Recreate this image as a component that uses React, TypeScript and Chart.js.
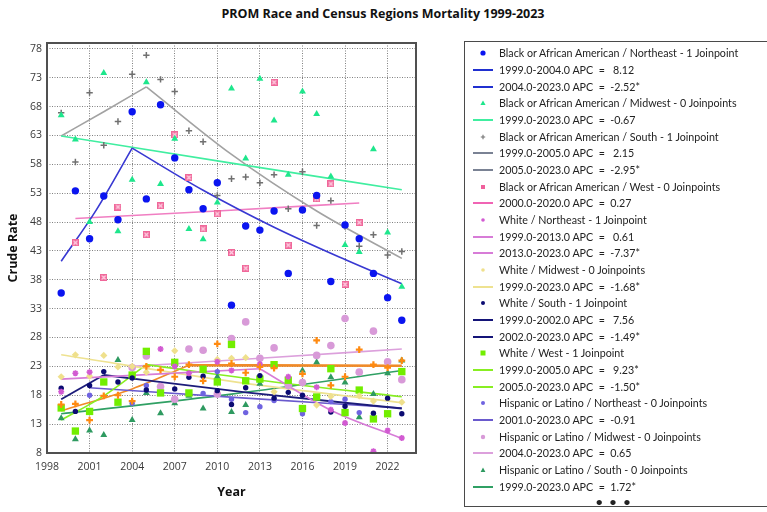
import { useEffect, useRef } from "react";
import { Chart, registerables } from "chart.js";

Chart.register(...registerables);

// ---- data -------------------------------------------------------------
const years = [1999, 2000, 2001, 2002, 2003, 2004, 2005, 2006, 2007, 2008, 2009, 2010, 2011, 2012, 2013, 2014, 2015, 2016, 2017, 2018, 2019, 2020, 2021, 2022, 2023];
const xTickValues = [1998, 2001, 2004, 2007, 2010, 2013, 2016, 2019, 2022];
const yTickValues = [8, 13, 18, 23, 28, 33, 38, 43, 48, 53, 58, 63, 68, 73, 78];

const blackNortheast = [35.7, 53.4, 45.1, 52.5, 48.4, 67.1, 52.0, 68.3, 59.1, 53.6, 50.3, 54.8, 33.6, 47.3, 46.6, 49.9, 39.1, 50.1, 52.6, 37.7, 47.5, 45.1, 39.1, 34.9, 31.0];
const blackMidwest = [66.5, 62.3, 48.0, 73.8, 46.4, 55.3, 72.2, 54.6, 62.4, 46.8, 45.0, 51.4, 71.1, 59.0, 72.8, 65.6, 56.2, 70.6, 66.7, 55.9, 44.0, 42.8, 60.6, 46.2, 36.8];
const blackSouth = [66.9, 58.4, 70.4, 61.3, 65.4, 73.6, 76.9, 72.7, 70.6, 63.8, 61.9, 52.6, 55.5, 55.8, 54.8, 56.2, 50.3, 56.7, 47.4, 51.7, 47.2, 43.8, 45.8, 42.3, 42.9];
const blackWest = [null, 44.4, null, 38.4, 50.6, null, 45.8, 50.8, 63.1, 55.7, 46.8, 49.4, 42.7, 40.0, null, 72.2, 44.0, null, 52.0, 54.6, 37.2, 47.9, null, null, null];
const whiteNortheast = [18.6, 21.8, 22.0, null, null, null, null, 26.0, 23.0, 21.8, null, 23.8, 22.3, null, 23.4, null, 21.2, null, 19.4, 15.5, 13.2, null, 8.3, 11.9, 10.6];
const whiteMidwest = [21.2, 25.0, 21.3, 24.9, 22.9, 23.0, 22.0, null, 25.7, null, null, 24.2, 24.4, 24.5, null, 18.6, null, null, 16.3, 17.8, null, 17.9, 17.0, null, 16.8];
const whiteSouth = [19.2, 15.2, 19.7, 22.1, 20.3, 21.0, 18.9, null, 19.1, 21.1, 21.3, 18.8, 16.4, 19.3, 21.4, 17.5, 18.5, 18.0, null, 15.1, 16.1, null, 14.9, 17.5, 14.8];
const whiteWest = [15.8, 11.8, 15.2, 20.3, 16.8, 21.5, 25.6, 18.4, 23.7, 18.4, 22.5, 20.3, 26.8, 20.5, 20.8, 23.3, 20.6, 15.7, 17.7, 22.6, 15.0, 18.9, 13.9, 14.8, 22.1];
const hispanicNortheast = [null, null, 18.0, null, null, 16.6, 19.7, null, null, null, 18.3, 22.1, 17.3, 15.0, 16.0, 17.1, null, 14.8, null, 16.9, 17.3, 15.0, null, null, null];
const hispanicMidwest = [null, null, null, null, null, 22.8, 24.8, 19.5, 17.3, 26.0, 25.8, 18.2, 27.8, 30.7, 24.4, 26.2, 19.7, 20.2, 24.9, 26.6, 31.3, 22.0, 29.1, 23.8, 20.7];
const hispanicSouth = [14.0, 10.4, 11.9, 11.1, 24.1, 13.7, 18.4, 14.9, 16.6, 17.9, 15.7, 21.2, 15.1, 16.3, 20.0, null, 19.8, 22.3, 23.7, 21.1, 20.2, 14.2, 18.2, 21.8, 24.0];
const hispanicWest = [16.4, 16.5, 13.7, 17.9, 18.0, 17.0, 23.0, 22.4, 21.2, 23.3, 20.5, 26.9, 23.5, 21.9, 22.9, 22.7, null, 21.7, 27.5, 19.7, 21.2, 25.9, 23.3, 22.8, 24.0];

// Joinpoint fitted segments, as [year, modelled rate] knots
const fitBlackNortheastA = [[1999, 41.2], [2001.5, 50.2], [2004, 60.8]];
const fitBlackNortheastB = [[2004, 60.8], [2009, 53.5], [2014, 47.1], [2019, 41.5], [2023, 37.3]];
const fitBlackMidwest = [[1999, 62.9], [2011, 58.2], [2023, 53.6]];
const fitBlackSouthA = [[1999, 62.9], [2002, 67.1], [2005, 71.4]];
const fitBlackSouthB = [[2005, 71.4], [2011, 59.7], [2017, 49.9], [2023, 41.7]];
const fitBlackWest = [[2000, 48.6], [2010, 49.9], [2020, 51.3]];
const fitWhiteNortheastA = [[1999, 20.8], [2006, 21.7], [2013, 22.6]];
const fitWhiteNortheastB = [[2013, 22.6], [2018, 15.4], [2023, 10.5]];
const fitWhiteMidwest = [[1999, 25.0], [2011, 20.4], [2023, 16.7]];
const fitWhiteSouthA = [[1999, 17.3], [2002, 21.5]];
const fitWhiteSouthB = [[2002, 21.5], [2012, 18.5], [2023, 15.7]];
const fitWhiteWestA = [[1999, 13.7], [2002, 17.9], [2005, 23.3]];
const fitWhiteWestB = [[2005, 23.3], [2014, 20.3], [2023, 17.75]];
const fitHispanicNortheast = [[2001, 19.3], [2012, 17.5], [2023, 15.8]];
const fitHispanicMidwest = [[2004, 23.0], [2013, 24.4], [2023, 26.0]];
const fitHispanicSouth = [[1999, 14.8], [2011, 18.2], [2023, 22.3]];
const fitHispanicWestA = [[1999, 15.3], [2004, 19.1], [2008, 23.2]];
const fitHispanicWestB = [[2008, 23.2], [2023, 23.1]];

const C = {
  blue: "#0a14f0", blueLine: "#3838d2",
  mint: "#1ee68c", mintLine: "#40eea0",
  gray: "#707070", grayLine: "#a2a2a2", grayLegend: "#7a8294",
  pink: "#f0609c", pinkLine: "#f07ec2",
  orchid: "#d25ad2", orchidLine: "#d77cd7",
  khaki: "#efe08c", khakiLine: "#eee290",
  navy: "#0b0b72", navyLine: "#1c1c7a",
  lawn: "#72ee00", lawnLine: "#88ee22",
  slate: "#6f63e0", slateLine: "#6a5acd",
  plum: "#d89ad8", plumLine: "#dca0dc",
  sea: "#2e9a60", seaLine: "#30a064",
  orange: "#ff8a10", orangeLine: "#f08a28",
};

const chartTitle = "PROM Race and Census Regions Mortality 1999-2023";

type Row = { kind: "point" | "line"; sym: string; text: string };
const legendRows: Row[] = [
  { kind: "point", sym: "bNE", text: "Black or African American / Northeast - 1 Joinpoint" },
  { kind: "line", sym: "bNE", text: "1999.0-2004.0 APC  =   8.12" },
  { kind: "line", sym: "bNE", text: "2004.0-2023.0 APC  =  -2.52*" },
  { kind: "point", sym: "bMW", text: "Black or African American / Midwest - 0 Joinpoints" },
  { kind: "line", sym: "bMW", text: "1999.0-2023.0 APC  =  -0.67" },
  { kind: "point", sym: "bS", text: "Black or African American / South - 1 Joinpoint" },
  { kind: "line", sym: "bS", text: "1999.0-2005.0 APC  =   2.15" },
  { kind: "line", sym: "bS", text: "2005.0-2023.0 APC  =  -2.95*" },
  { kind: "point", sym: "bW", text: "Black or African American / West - 0 Joinpoints" },
  { kind: "line", sym: "bW", text: "2000.0-2020.0 APC  =  0.27" },
  { kind: "point", sym: "wNE", text: "White / Northeast - 1 Joinpoint" },
  { kind: "line", sym: "wNE", text: "1999.0-2013.0 APC  =   0.61" },
  { kind: "line", sym: "wNE", text: "2013.0-2023.0 APC  =  -7.37*" },
  { kind: "point", sym: "wMW", text: "White / Midwest - 0 Joinpoints" },
  { kind: "line", sym: "wMW", text: "1999.0-2023.0 APC  =  -1.68*" },
  { kind: "point", sym: "wS", text: "White / South - 1 Joinpoint" },
  { kind: "line", sym: "wS", text: "1999.0-2002.0 APC  =   7.56" },
  { kind: "line", sym: "wS", text: "2002.0-2023.0 APC  =  -1.49*" },
  { kind: "point", sym: "wW", text: "White / West - 1 Joinpoint" },
  { kind: "line", sym: "wW", text: "1999.0-2005.0 APC  =   9.23*" },
  { kind: "line", sym: "wW", text: "2005.0-2023.0 APC  =  -1.50*" },
  { kind: "point", sym: "hNE", text: "Hispanic or Latino / Northeast - 0 Joinpoints" },
  { kind: "line", sym: "hNE", text: "2001.0-2023.0 APC  =  -0.91" },
  { kind: "point", sym: "hMW", text: "Hispanic or Latino / Midwest - 0 Joinpoints" },
  { kind: "line", sym: "hMW", text: "2004.0-2023.0 APC  =  0.65" },
  { kind: "point", sym: "hS", text: "Hispanic or Latino / South - 0 Joinpoints" },
  { kind: "line", sym: "hS", text: "1999.0-2023.0 APC  =  1.72*" },
];

const legendLineColor: Record<string, string> = {
  bNE: "#2030d0", bMW: C.mintLine, bS: C.grayLegend, bW: "#f064b4", wNE: C.orchidLine,
  wMW: C.khakiLine, wS: "#141478", wW: C.lawnLine, hNE: C.slateLine, hMW: C.plumLine, hS: C.seaLine,
};

// ---- helpers ----------------------------------------------------------
function toPoints(values: (number | null)[]) {
  const pts: { x: number; y: number }[] = [];
  values.forEach((v, i) => {
    if (v !== null) pts.push({ x: years[i], y: v });
  });
  return pts;
}

function boxCross(): HTMLCanvasElement {
  const c = document.createElement("canvas");
  c.width = 7;
  c.height = 7;
  const g = c.getContext("2d")!;
  g.fillStyle = "#f0689a";
  g.fillRect(0, 0, 7, 7);
  g.strokeStyle = "#ffd2e4";
  g.lineWidth = 1.2;
  g.beginPath();
  g.moveTo(1.5, 1.5);
  g.lineTo(5.5, 5.5);
  g.moveTo(5.5, 1.5);
  g.lineTo(1.5, 5.5);
  g.stroke();
  return c;
}

function scatterSet(values: (number | null)[], opts: any) {
  return {
    type: "scatter" as const,
    data: toPoints(values),
    showLine: false,
    pointBorderWidth: 0,
    ...opts,
  };
}

function fitSet(knots: number[][], color: string, width = 1.6) {
  return {
    type: "line" as const,
    data: knots.map(([x, y]) => ({ x, y })),
    borderColor: color,
    borderWidth: width,
    pointRadius: 0,
    fill: false,
    cubicInterpolationMode: "monotone" as const,
  };
}

const framePlugin = {
  id: "frame",
  afterDraw(chart: any) {
    const { ctx, chartArea: a } = chart;
    ctx.save();
    ctx.strokeStyle = "#505050";
    ctx.lineWidth = 2;
    ctx.strokeRect(a.left, a.top, a.right - a.left, a.bottom - a.top);
    ctx.restore();
  },
};

function LegendSymbol({ row }: { row: Row }) {
  if (row.kind === "line") {
    return (
      <div style={{ position: "absolute", left: 9, top: 7, width: 20, height: 2, background: legendLineColor[row.sym] }} />
    );
  }
  const s = row.sym;
  let shape: any = null;
  if (s === "bNE") shape = <circle cx={6} cy={6} r={2.6} fill={C.blue} />;
  else if (s === "bMW") shape = <polygon points="6,3.4 8.6,8 3.4,8" fill={C.mint} />;
  else if (s === "bS") shape = <path d="M6 3.8 V8.2 M3.8 6 H8.2" stroke={C.gray} strokeWidth={1.1} />;
  else if (s === "bW") shape = <rect x={4} y={4} width={4} height={4} fill={C.pink} />;
  else if (s === "wNE") shape = <circle cx={6} cy={6} r={1.8} fill={C.orchid} />;
  else if (s === "wMW") shape = <circle cx={6} cy={6} r={1.8} fill={C.khaki} />;
  else if (s === "wS") shape = <circle cx={6} cy={6} r={2} fill={C.navy} />;
  else if (s === "wW") shape = <rect x={3.5} y={3.5} width={5} height={5} fill={C.lawn} />;
  else if (s === "hNE") shape = <circle cx={6} cy={6} r={2} fill={C.slate} />;
  else if (s === "hMW") shape = <circle cx={6} cy={6} r={2.2} fill={C.plum} />;
  else if (s === "hS") shape = <polygon points="6,3.6 8.4,8 3.6,8" fill={C.sea} />;
  return (
    <svg width={12} height={12} style={{ position: "absolute", left: 13, top: 2 }}>
      {shape}
    </svg>
  );
}

export default function App() {
  const canvasRef = useRef<HTMLCanvasElement | null>(null);

  useEffect(() => {
    const canvas = canvasRef.current;
    if (!canvas) return;
    const pinkMarker = boxCross();

    const datasets: any[] = [
      scatterSet(blackNortheast, { pointStyle: "circle", pointRadius: 3.7, pointBackgroundColor: C.blue }),
      scatterSet(blackMidwest, { pointStyle: "triangle", pointRadius: 4, pointBackgroundColor: C.mint }),
      scatterSet(blackSouth, { pointStyle: "cross", pointRadius: 3.2, pointBorderWidth: 1.5, pointBorderColor: C.gray }),
      scatterSet(blackWest, { pointStyle: pinkMarker, pointRadius: 4 }),
      scatterSet(hispanicWest, { pointStyle: "cross", pointRadius: 3.4, pointBorderWidth: 2.2, pointBorderColor: C.orange }),
      scatterSet(whiteNortheast, { pointStyle: "star", pointRadius: 3, pointBorderWidth: 1.6, pointBorderColor: C.orchid }),
      scatterSet(whiteMidwest, { pointStyle: "rectRot", pointRadius: 3.6, pointBackgroundColor: C.khaki }),
      scatterSet(whiteSouth, { pointStyle: "circle", pointRadius: 2.7, pointBackgroundColor: C.navy }),
      scatterSet(whiteWest, { pointStyle: "rect", pointRadius: 5.2, pointBackgroundColor: C.lawn }),
      scatterSet(hispanicNortheast, { pointStyle: "circle", pointRadius: 2.7, pointBackgroundColor: C.slate }),
      scatterSet(hispanicMidwest, { pointStyle: "circle", pointRadius: 3.8, pointBackgroundColor: C.plum }),
      scatterSet(hispanicSouth, { pointStyle: "triangle", pointRadius: 4, pointBackgroundColor: C.sea }),

      fitSet(fitBlackNortheastA, C.blueLine),
      fitSet(fitBlackNortheastB, C.blueLine),
      fitSet(fitBlackMidwest, C.mintLine),
      fitSet(fitBlackSouthA, C.grayLine),
      fitSet(fitBlackSouthB, C.grayLine),
      fitSet(fitBlackWest, C.pinkLine),
      fitSet(fitWhiteNortheastA, C.orchidLine),
      fitSet(fitWhiteNortheastB, C.orchidLine),
      fitSet(fitWhiteMidwest, C.khakiLine),
      fitSet(fitWhiteSouthA, C.navyLine, 1.9),
      fitSet(fitWhiteSouthB, C.navyLine, 1.9),
      fitSet(fitWhiteWestA, C.lawnLine),
      fitSet(fitWhiteWestB, C.lawnLine),
      fitSet(fitHispanicNortheast, C.slateLine),
      fitSet(fitHispanicMidwest, C.plumLine),
      fitSet(fitHispanicSouth, C.seaLine),
      fitSet(fitHispanicWestA, C.orangeLine),
      fitSet(fitHispanicWestB, C.orangeLine, 2.6),
    ];

    const tickFont = { family: "'Open Sans', 'Noto Sans', sans-serif", size: 10.5 };
    const titleFont = { family: "'Open Sans', 'Noto Sans', sans-serif", size: 12.5, weight: "bold" as const };

    const chart = new Chart(canvas, {
      type: "scatter",
      data: { datasets },
      options: {
        animation: false,
        responsive: false,
        events: [],
        layout: { padding: { left: 0, top: 43, right: 351, bottom: 0 } },
        plugins: { legend: { display: false }, tooltip: { enabled: false }, title: { display: false } },
        scales: {
          x: {
            type: "linear",
            min: 1998,
            max: 2024,
            afterBuildTicks: (s: any) => {
              s.ticks = xTickValues.map((v) => ({ value: v }));
            },
            afterFit: (s: any) => {
              s.height = 59;
            },
            ticks: { font: tickFont, color: "#3a3a3a", padding: 8, maxRotation: 0, callback: (v: any) => String(v) },
            grid: { color: "#808080", lineWidth: 1, drawTicks: false },
            border: { display: false, dash: [1, 1.5] },
            title: { display: true, text: "Year", font: titleFont, color: "#111", padding: { top: 0, bottom: 12 } },
          },
          y: {
            type: "linear",
            min: 8,
            max: 79,
            afterBuildTicks: (s: any) => {
              s.ticks = yTickValues.map((v) => ({ value: v }));
            },
            afterFit: (s: any) => {
              s.width = 47;
            },
            ticks: { font: tickFont, color: "#3a3a3a", padding: 5 },
            grid: { color: "#808080", lineWidth: 1, drawTicks: false },
            border: { display: false, dash: [1, 1.5] },
            title: { display: true, text: "Crude Rate", font: titleFont, color: "#111", padding: { top: 6, bottom: 0 } },
          },
        },
      },
      plugins: [framePlugin],
    });
    return () => chart.destroy();
  }, []);

  const rowTop = 53.3;
  const rowStep = 16.67;

  return (
    <div style={{ position: "fixed", left: 0, top: 0, width: 767, height: 512, background: "#fff", overflow: "hidden" }}>
      <div
        style={{
          position: "absolute",
          left: 383,
          top: 5,
          transform: "translateX(-50%)",
          whiteSpace: "nowrap",
          fontFamily: "'Open Sans', 'Noto Sans', sans-serif",
          fontWeight: 700,
          fontSize: 12.5,
          color: "#111",
        }}
      >
        {chartTitle}
      </div>
      <canvas ref={canvasRef} width={767} height={512} style={{ position: "absolute", left: 0, top: 0, width: 767, height: 512 }} />
      <div
        style={{
          position: "absolute",
          left: 464,
          top: 41,
          width: 320,
          height: 466,
          border: "1.5px solid #4a4a4a",
          boxSizing: "border-box",
        }}
      />
      {legendRows.map((row, i) => (
        <div
          key={i}
          style={{
            position: "absolute",
            left: 464,
            top: rowTop + i * rowStep - 8,
            height: 16,
            width: 300,
            fontFamily: "Lato, 'Open Sans', sans-serif",
            fontSize: 10.7,
            color: "#222",
            whiteSpace: "pre",
          }}
        >
          <LegendSymbol row={row} />
          <span style={{ position: "absolute", left: 35, top: 1, lineHeight: "14px" }}>{row.text}</span>
        </div>
      ))}
      <div
        style={{
          position: "absolute",
          left: 614,
          top: 494,
          transform: "translateX(-50%)",
          whiteSpace: "nowrap",
          fontFamily: "Lato, sans-serif",
          fontSize: 12,
          fontWeight: 700,
          letterSpacing: 2,
          color: "#222",
        }}
      >
        • • •
      </div>
    </div>
  );
}
